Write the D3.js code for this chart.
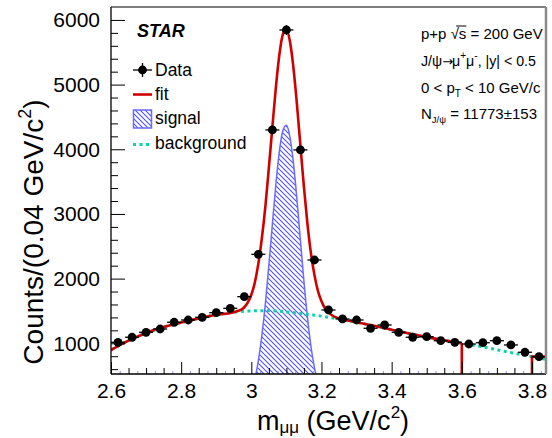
<!DOCTYPE html>
<html><head><meta charset="utf-8">
<script src="https://cdn.jsdelivr.net/npm/d3@7"></script>
<style>body{margin:0;background:#fff}svg{display:block;font-family:"Liberation Sans",Arial,Helvetica,sans-serif}</style>
</head><body><svg id="c" width="552" height="438"></svg>
<script>
// ---- data ----
const massBins = [2.62,2.66,2.70,2.74,2.78,2.82,2.86,2.90,2.94,2.98,3.02,3.06,3.10,3.14,3.18,3.22,3.26,3.30,3.34,3.38,3.42,3.46,3.50,3.54,3.58,3.62,3.66,3.70,3.74,3.78,3.82];
const counts   = [1015,1093,1170,1221,1325,1360,1402,1473,1541,1721,2376,4299,5845,3990,2288,1515,1376,1360,1232,1283,1170,1093,1102,1040,1015,989,1009,1040,974,861,793];
const countErr = [32,33,34,35,36,37,37,38,39,41,49,66,76,63,48,39,37,37,35,36,34,33,33,32,32,31,32,32,31,29,28];
const binHalfWidth = 0.02;

const bgMass = [2.60,2.65,2.70,2.75,2.80,2.85,2.90,2.95,3.00,3.05,3.10,3.15,3.20,3.25,3.30,3.35,3.40,3.45,3.50,3.55,3.60,3.65,3.70,3.75,3.80,3.85];
const bgVals = [896,1040,1160,1250,1320,1385,1440,1480,1500,1505,1485,1455,1420,1375,1325,1270,1210,1150,1095,1045,1000,955,900,846,793,740];

const sigMass = [2.96,2.97,2.98,2.99,3.00,3.01,3.02,3.03,3.04,3.05,3.06,3.07,3.08,3.09,3.10,3.11,3.12,3.13,3.14,3.15,3.16,3.17,3.18,3.19,3.20,3.21,3.22,3.23,3.24,3.25];
const sigVals = [15,30,65,135,250,440,730,1120,1610,2210,2840,3460,3970,4290,4370,4190,3790,3230,2590,1960,1400,950,620,380,230,130,75,40,20,10];
const sigRange = [3.0, 3.2];
const fitGap = [3.6, 3.8];

const xTicks = [2.6,2.8,3.0,3.2,3.4,3.6,3.8];
const yTicks = [1000,2000,3000,4000,5000,6000];
const legendLabels = ["Data","fit","signal","background"];
const infoLines = ["p+p","J/ψ→μ","0 < p","N"];

// ---- layout ----
const L=111, R=546, T=7, B=374;
const xDom=[2.6,3.84], yDom=[525,6200];
const x = d3.scaleLinear().domain(xDom).range([L,R]);
const y = d3.scaleLinear().domain(yDom).range([B,T]);
const svg = d3.select("#c");
const FONT = '"Liberation Sans",Arial,Helvetica,sans-serif';
const RED="#d00000", GREEN="#10d0a8", BLUE="#6a6aff";

const defs = svg.append("defs");
defs.append("clipPath").attr("id","clip").append("rect").attr("x",L).attr("y",T).attr("width",R-L).attr("height",B-T);
const pat = defs.append("pattern").attr("id","hatch").attr("patternUnits","userSpaceOnUse").attr("width",5).attr("height",5);
pat.append("path").attr("d","M0,0 L5,5 M-1,4 L1,6 M4,-1 L6,1").attr("stroke","#5050ff").attr("stroke-width",1.1);

const bgAt = d3.scaleLinear().domain(bgMass).range(bgVals);

// fit = background + signal
const fitPts = [];
bgMass.forEach((m,i)=>{ if (m < sigMass[0]-1e-9) fitPts.push([m,bgVals[i]]); });
sigMass.forEach((m,i)=>{ fitPts.push([m, bgAt(m)+sigVals[i]]); });
bgMass.forEach((m,i)=>{ if (m > sigMass[sigMass.length-1]+1e-9 && m <= fitGap[0]+1e-9) fitPts.push([m,bgVals[i]]); });

const plot = svg.append("g").attr("clip-path","url(#clip)");

// signal hatched
const sigPts = sigMass.map((m,i)=>[m,sigVals[i]]).filter(p=>p[0]>=sigRange[0]-1e-9 && p[0]<=sigRange[1]+1e-9);
plot.append("path").datum(sigPts)
  .attr("d", d3.area().x(d=>x(d[0])).y0(y(0)).y1(d=>y(d[1])).curve(d3.curveMonotoneX))
  .attr("fill","url(#hatch)").attr("stroke",BLUE).attr("stroke-width",1.5);

// background
plot.append("path").datum(bgMass.map((m,i)=>[m,bgVals[i]]))
  .attr("d", d3.line().x(d=>x(d[0])).y(d=>y(d[1])).curve(d3.curveMonotoneX))
  .attr("fill","none").attr("stroke",GREEN).attr("stroke-width",3).attr("stroke-dasharray","3,3.5");

// fit
plot.append("path").datum(fitPts).attr("d", d3.line().x(d=>x(d[0])).y(d=>y(d[1])).curve(d3.curveMonotoneX))
  .attr("fill","none").attr("stroke",RED).attr("stroke-width",2.6);
const lastFit = fitPts[fitPts.length-1];
const segLine = d3.line().x(d=>x(d[0])).y(d=>y(d[1]));
plot.append("path").datum([[fitGap[0],lastFit[1]],[fitGap[0],0]]).attr("d", segLine)
  .attr("fill","none").attr("stroke",RED).attr("stroke-width",2.6);
plot.append("path").datum([[fitGap[1],0],[fitGap[1],bgAt(fitGap[1])],[xDom[1],bgAt(fitGap[1])]]).attr("d", segLine)
  .attr("fill","none").attr("stroke",RED).attr("stroke-width",2.6);

// data
const pts = plot.append("g");
massBins.forEach((m,i)=>{
  pts.append("line").attr("x1",x(m-binHalfWidth)).attr("x2",x(m+binHalfWidth)).attr("y1",y(counts[i])).attr("y2",y(counts[i])).attr("stroke","#000").attr("stroke-width",1.3);
  pts.append("line").attr("x1",x(m)).attr("x2",x(m)).attr("y1",y(counts[i]-countErr[i])).attr("y2",y(counts[i]+countErr[i])).attr("stroke","#000").attr("stroke-width",1.3);
  pts.append("circle").attr("cx",x(m)).attr("cy",y(counts[i])).attr("r",4.4).attr("fill","#000");
});

// axes
const gy = svg.append("g").attr("transform",`translate(${L},0)`)
  .call(d3.axisLeft(y).tickValues(yTicks).tickSize(-14).tickPadding(11).tickFormat(d3.format("d")));
gy.select(".domain").remove();
gy.attr("font-size",21).attr("font-family",FONT);
gy.selectAll("text").attr("fill","#000");
const yMinor = d3.range(600,6200,200).filter(v=>v%1000!==0);
const gy2 = svg.append("g").attr("transform",`translate(${L},0)`).call(d3.axisLeft(y).tickValues(yMinor).tickSize(-7).tickFormat(""));
gy2.select(".domain").remove();

const gx = svg.append("g").attr("transform",`translate(0,${B})`)
  .call(d3.axisBottom(x).tickValues(xTicks).tickSize(-12).tickPadding(9).tickFormat(d=>String(+d.toFixed(1))));
gx.select(".domain").remove();
gx.attr("font-size",21).attr("font-family",FONT);
gx.selectAll("text").attr("fill","#000");
const xMinor = d3.range(0,25).map(k=>+(2.6+k*0.05).toFixed(3)).filter(v=>v<xDom[1] && Math.abs(v*5-Math.round(v*5))>1e-6);
const gx2 = svg.append("g").attr("transform",`translate(0,${B})`).call(d3.axisBottom(x).tickValues(xMinor).tickSize(-6).tickFormat(""));
gx2.select(".domain").remove();
const xTiny = d3.range(0,50).map(k=>+(2.625+k*0.05).toFixed(3)).filter(v=>v<xDom[1]);
const gx3 = svg.append("g").attr("transform",`translate(0,${B})`).call(d3.axisBottom(x).tickValues(xTiny).tickSize(-3).tickFormat(""));
gx3.select(".domain").remove();
gx3.selectAll("line").attr("stroke","#8a8aff");

// frame
svg.append("line").attr("x1",L).attr("x2",L).attr("y1",T).attr("y2",B).attr("stroke","#000").attr("stroke-width",1.3);
svg.append("line").attr("x1",L).attr("x2",R).attr("y1",B).attr("y2",B).attr("stroke","#000").attr("stroke-width",1.3);
svg.append("line").attr("x1",L).attr("x2",R).attr("y1",T).attr("y2",T).attr("stroke","#000").attr("stroke-width",1.1);
svg.append("line").attr("x1",R).attr("x2",R).attr("y1",T).attr("y2",B).attr("stroke","#888").attr("stroke-width",2.5);

// axis titles
const xt = svg.append("text").attr("x",257).attr("y",430).attr("font-size",27).attr("font-family",FONT);
xt.append("tspan").text("m");
xt.append("tspan").attr("font-size",17).attr("dy",3).text("μμ");
xt.append("tspan").attr("dy",-3).text(" (GeV/c");
xt.append("tspan").attr("font-size",17).attr("dy",-12).text("2");
xt.append("tspan").attr("dy",12).text(")");

const yt = svg.append("text").attr("font-size",28).attr("font-family",FONT)
  .attr("text-anchor","middle").attr("transform","translate(43,232) rotate(-90)");
yt.append("tspan").text("Counts/(0.04 GeV/c");
yt.append("tspan").attr("font-size",18).attr("dy",-12).text("2");
yt.append("tspan").attr("dy",12).text(")");

// STAR
svg.append("text").attr("x",137).attr("y",37).attr("font-size",18).attr("font-weight","bold").attr("font-style","italic").attr("font-family",FONT).text("STAR");

// legend
const lg = svg.append("g").attr("font-family",FONT).attr("font-size",17.5);
lg.append("line").attr("x1",133).attr("x2",152).attr("y1",70).attr("y2",70).attr("stroke","#000").attr("stroke-width",1.3);
lg.append("line").attr("x1",142.5).attr("x2",142.5).attr("y1",63).attr("y2",77).attr("stroke","#000").attr("stroke-width",1.3);
lg.append("circle").attr("cx",142.5).attr("cy",70).attr("r",4.4).attr("fill","#000");
lg.append("text").attr("x",155).attr("y",76).text(legendLabels[0]);
lg.append("line").attr("x1",133).attr("x2",152).attr("y1",94.5).attr("y2",94.5).attr("stroke",RED).attr("stroke-width",2.6);
lg.append("text").attr("x",155).attr("y",100).text(legendLabels[1]);
lg.append("rect").attr("x",133.5).attr("y",110).attr("width",18).attr("height",18).attr("fill","url(#hatch)").attr("stroke",BLUE).attr("stroke-width",1.5);
lg.append("text").attr("x",155).attr("y",124).text(legendLabels[2]);
lg.append("line").attr("x1",133).attr("x2",152).attr("y1",144.5).attr("y2",144.5).attr("stroke",GREEN).attr("stroke-width",3).attr("stroke-dasharray","3,3.5");
lg.append("text").attr("x",155).attr("y",149).text(legendLabels[3]);

// info block
const IX = 421;
const info = svg.append("g").attr("font-family",FONT).attr("font-size",15);
const t1 = info.append("text").attr("x",IX).attr("y",39);
t1.append("tspan").text(infoLines[0]+" ");
t1.append("tspan").text("√");
t1.append("tspan").text("s");
t1.append("tspan").text(" = 200 GeV");
{
  const n = t1.node();
  const sIdx = (infoLines[0]+" √").length;
  const s0 = n.getStartPositionOfChar(sIdx-1).x + 5.5;
  const s1 = n.getEndPositionOfChar(sIdx).x;
  info.append("line").attr("x1",s0).attr("x2",s1).attr("y1",39-13).attr("y2",39-13).attr("stroke","#000").attr("stroke-width",1);
}
const t2 = info.append("text").attr("x",IX).attr("y",66).attr("font-size",14.2);
t2.append("tspan").text("J/ψ");
t2.append("tspan").attr("font-family","'DejaVu Sans'").attr("font-size",13).attr("letter-spacing",-1).text("→");
t2.append("tspan").text("μ");
t2.append("tspan").attr("font-size",10).attr("dy",-7).text("+");
t2.append("tspan").attr("dy",7).text("μ");
t2.append("tspan").attr("font-size",10).attr("dy",-7).text("-");
t2.append("tspan").attr("dy",7).text(", |y| < 0.5");
const t3 = info.append("text").attr("x",IX).attr("y",93);
t3.append("tspan").text(infoLines[2]);
t3.append("tspan").attr("font-size",10).attr("dy",4).text("T");
t3.append("tspan").attr("dy",-4).text(" < 10 GeV/c");
const t4 = info.append("text").attr("x",IX).attr("y",119);
t4.append("tspan").text(infoLines[3]);
t4.append("tspan").attr("font-size",9.5).attr("dy",4).text("J/ψ");
t4.append("tspan").attr("dy",-4).text(" = 11773±153");
</script></body></html>
